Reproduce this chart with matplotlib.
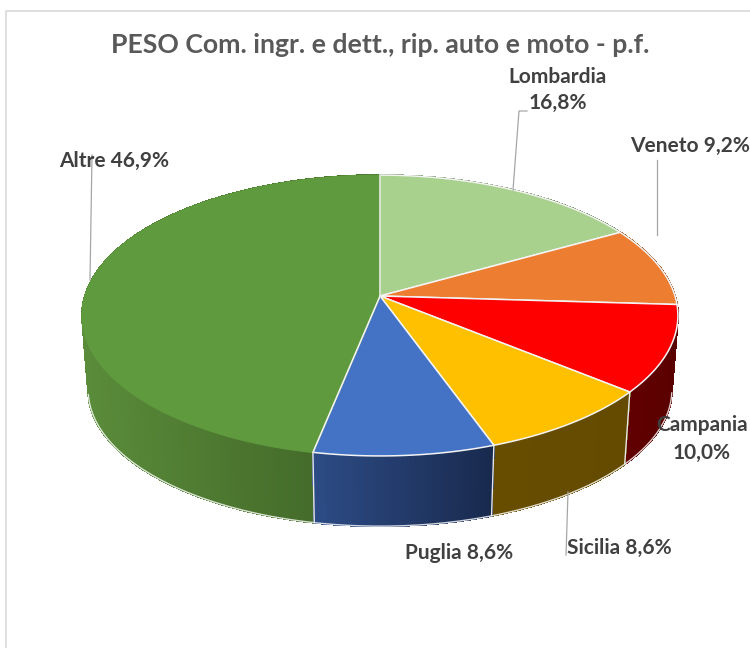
import numpy as np
import matplotlib
matplotlib.use('Agg')
import matplotlib.pyplot as plt
from matplotlib.collections import PolyCollection
from matplotlib.colors import to_rgb

# DATI
regioni = ['Lombardia', 'Veneto', 'Campania', 'Sicilia', 'Puglia', 'Altre']
pesi = [16.8, 9.2, 10.0, 8.6, 8.6, 46.9]
etichette = ['Lombardia\n16,8%', 'Veneto 9,2%', 'Campania\n10,0%',
             'Sicilia 8,6%', 'Puglia 8,6%', 'Altre 46,9%']
titolo = 'PESO Com. ingr. e dett., rip. auto e moto - p.f.'

# STILE
colori_top = ['#A9D18E', '#ED7D31', '#FF0000', '#FFC000', '#4472C4', '#5F9A3E']
colori_lato_a = ['#7F9D6A', '#A85822', '#620000', '#664D00', '#2D4C86', '#5A8C3A']
colori_lato_b = ['#6A8459', '#8E4A1D', '#5A0000', '#644B00', '#18294D', '#3F6226']
pos_etichette = [(558, 90), (690, 146), (702, 439), (619, 548), (459, 553), (114, 161)]
interlinea = [1.4, 1.2, 1.55, 1.2, 1.2, 1.2]
leader = [[(513, 190), (519, 111), (527, 111)],
          [(657, 235), (657, 160)],
          [(92, 155), (90, 280)],
          [(568, 492), (566, 555)]]

plt.rcParams['font.family'] = ['Lato', 'DejaVu Sans']

fig = plt.figure(figsize=(7.5, 6.48), dpi=100)
ax = fig.add_axes([0, 0, 1, 1])
ax.set_xlim(0, 750)
ax.set_ylim(648, 0)
ax.axis('off')


# prospettiva della torta: angolo da ore 12 in senso orario
def proj(ang, cy=296.0, rx=295.0, ry=137.7, k=0.139):
    u = np.sin(ang)
    v = np.cos(ang)
    den = 1 + k * v
    return np.column_stack([380 + rx * u / den, cy - ry * v / den])


def rim_basso(ang):
    return proj(ang, cy=371.0, rx=289.0, ry=133.6)


# limiti delle fette dai valori
frazioni = np.array(pesi) / np.sum(pesi)
limiti = np.concatenate([[0], np.cumsum(frazioni)]) * 2 * np.pi

# FIANCO: strisce sottili da dietro verso davanti
quads, cols = [], []
for i in range(len(pesi)):
    angs = np.linspace(limiti[i], limiti[i + 1], max(int(pesi[i] * 5), 8))
    top = proj(angs)
    bot = rim_basso(angs)
    ca, cb = np.array(to_rgb(colori_lato_a[i])), np.array(to_rgb(colori_lato_b[i]))
    xs = top[:, 0]
    for j in range(len(angs) - 1):
        quads.append([top[j], top[j + 1], bot[j + 1], bot[j]])
        # sfumatura sinistra -> destra
        t = (0.5 * (xs[j] + xs[j + 1]) - xs.min()) / (xs.max() - xs.min())
        cols.append((ca + (cb - ca) * t, np.cos(0.5 * (angs[j] + angs[j + 1]))))

ordine = np.argsort([-c[1] for c in cols])
ax.add_collection(PolyCollection([quads[o] for o in ordine],
                                 facecolors=[cols[o][0] for o in ordine],
                                 edgecolors=[cols[o][0] for o in ordine],
                                 linewidths=0.8, antialiaseds=False, zorder=2))

# bordo chiaro in basso sul fianco, a coprire la scalettatura
fronte = np.linspace(limiti[2] + 0.1, limiti[5] + 1.2, 200)
bordo = rim_basso(fronte)
ax.plot(bordo[:, 0], bordo[:, 1], color='#FFFFFF', lw=1.0, alpha=0.8, zorder=3)

# linee chiare tra le fette sul fianco (solo parte frontale)
for a in limiti[:-1]:
    if np.cos(a) < -0.3:
        p0 = proj(np.array([a]))[0]
        p1 = rim_basso(np.array([a]))[0]
        ax.plot([p0[0], p1[0]], [p0[1], p1[1]], color='#E8E8E8', lw=1.0, zorder=3)

# FACCIA SUPERIORE
for i in range(len(pesi)):
    angs = np.linspace(limiti[i], limiti[i + 1], max(int(pesi[i] * 6), 12))
    pts = np.vstack([[[380, 296]], proj(angs)])
    bordo_col = colori_top[i] if regioni[i] == 'Altre' else '#F4F4F4'
    ax.fill(pts[:, 0], pts[:, 1], facecolor=colori_top[i], edgecolor=bordo_col,
            lw=1.1, joinstyle='round', zorder=4)

# le fette vicine ad Altre tengono il filo chiaro sul raggio
for a in [limiti[0], limiti[5]]:
    p = proj(np.array([a]))[0]
    ax.plot([380, p[0]], [296, p[1]], color='#F4F4F4', lw=1.1, zorder=5)

# leader e cornice
for pts in leader:
    ax.plot([p[0] for p in pts], [p[1] for p in pts], color='#A6A6A6', lw=0.9, zorder=5)
ax.plot([5.5, 5.5, 750], [648, 10.5, 10.5], color='#D9D9D9', lw=1.2, zorder=1)

# TESTI
ax.text(380, 45, titolo, ha='center', va='center', fontsize=19.2, fontweight='bold',
        color='#595959')
for testo, (x, y), ls in zip(etichette, pos_etichette, interlinea):
    ax.text(x, y, testo, ha='center', va='center', fontsize=15, fontweight='bold',
            color='#404040', linespacing=ls, zorder=6)

fig.savefig('out.png', dpi=100)
